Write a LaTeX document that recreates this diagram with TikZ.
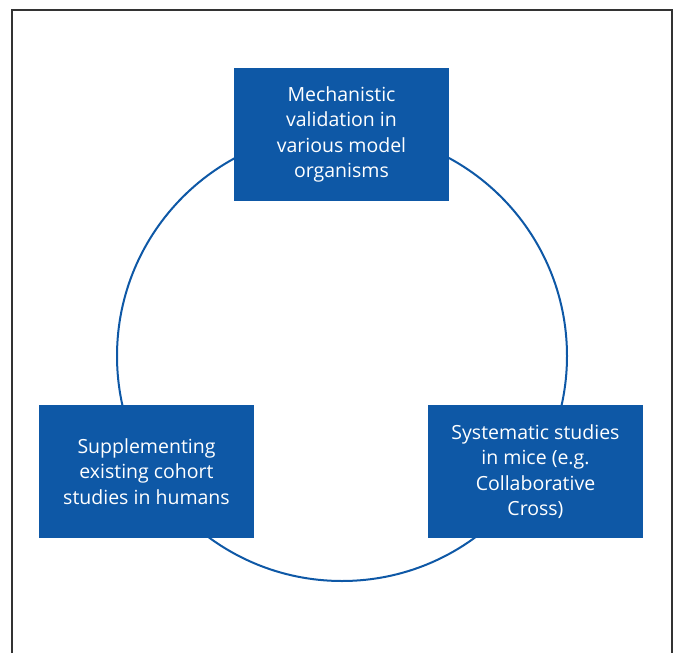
\documentclass[tikz,border=0pt]{standalone}
\usepackage{fontspec}
\setmainfont{Open Sans}
\definecolor{boxblue}{HTML}{0E58A6}
\tikzset{
	stage/.style={fill=boxblue,text=white,minimum width=215pt,minimum height=133pt,
		inner sep=0pt,align=center,font=\fontsize{19.5}{25.5}\selectfont},
	cycle/.style={draw=boxblue,line width=2pt,circle,minimum size=450pt,inner sep=0pt}
}
\begin{document}
\begin{tikzpicture}[x=1pt,y=-1pt]
		\useasboundingbox (0,0) rectangle (677,653);
		\draw[line width=1.3pt,black!80] (12,653) -- (12,10) -- (672,10) -- (672,653);
		\node[cycle] (loop) at (342,356) {};
		\node[stage] (model) at (341.5,134.5) {Mechanistic\\validation in\\various model\\organisms};
		\node[stage] (human) at (146.5,471.5) {Supplementing\\existing cohort\\studies in humans};
		\node[stage] (mice) at (535.5,471.5) {Systematic studies\\in mice (e.g.\\Collaborative\\Cross)};
	\end{tikzpicture}
\end{document}
